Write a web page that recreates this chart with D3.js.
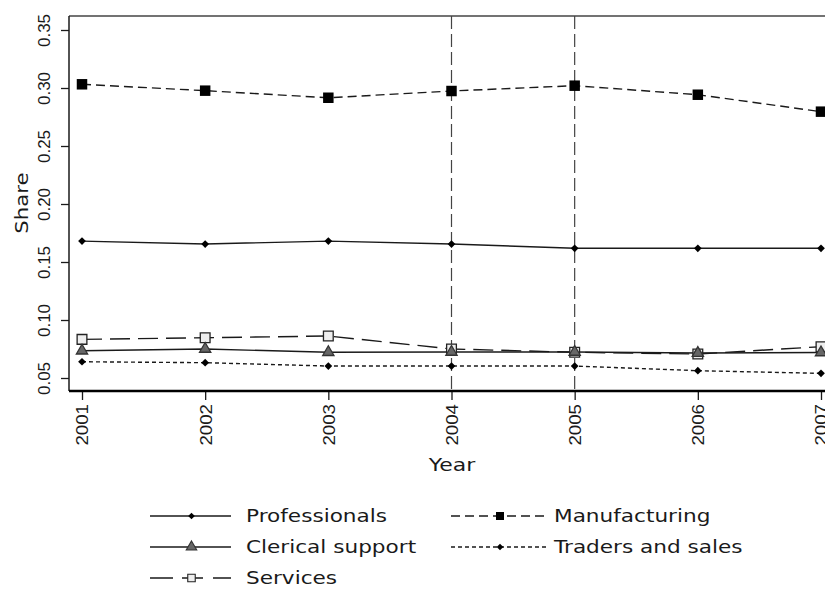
<!DOCTYPE html>
<html>
<head>
<meta charset="utf-8">
<script src="https://cdn.jsdelivr.net/npm/d3@7"></script>
<style>
  body { margin: 0; background: #fff; }
  svg { display: block; font-family: "DejaVu Sans", sans-serif; }
</style>
</head>
<body>
<svg id="chart" width="825" height="593"></svg>
<script>
const years = [2001, 2002, 2003, 2004, 2005, 2006, 2007];
const yTicks = [0.05, 0.10, 0.15, 0.20, 0.25, 0.30, 0.35];
const professionals = [0.168, 0.1655, 0.168, 0.1655, 0.1618, 0.1618, 0.1618];
const manufacturing = [0.3032, 0.2977, 0.2916, 0.2974, 0.302, 0.2942, 0.2796];
const clerical = [0.0735, 0.075, 0.0722, 0.0724, 0.0724, 0.0715, 0.072];
const traders = [0.064, 0.0632, 0.0603, 0.0603, 0.0603, 0.0563, 0.054];
const services = [0.0833, 0.0847, 0.0862, 0.075, 0.0722, 0.0707, 0.077];
const refYears = [2004, 2005];

const svg = d3.select("#chart");
const x = d3.scaleLinear().domain([2001, 2007]).range([82, 821]);
const y = d3.scaleLinear().domain([0.05, 0.35]).range([378, 30]);

const plotTop = 16, plotBottom = 391, plotLeft = 69, plotRight = 840;
const ink = "#1a1a1a";

// frame top
svg.append("line").attr("x1", plotLeft).attr("x2", plotRight).attr("y1", plotTop).attr("y2", plotTop)
  .attr("stroke", "#444").attr("stroke-width", 1.5);

// reference lines
svg.selectAll(".ref").data(refYears).join("line")
  .attr("x1", d => x(d)).attr("x2", d => x(d))
  .attr("y1", plotTop).attr("y2", plotBottom)
  .attr("stroke", "#444").attr("stroke-width", 1.2).attr("stroke-dasharray", "13,5");

// y axis
const yAxis = d3.axisLeft(y).tickValues(yTicks).tickFormat(d3.format(".2f")).tickSize(8);
const gy = svg.append("g").attr("transform", `translate(${plotLeft},0)`).call(yAxis);
gy.select(".domain").remove();
gy.selectAll(".tick line").attr("stroke", ink).attr("stroke-width", 1.3);
gy.selectAll(".tick text")
  .attr("x", 0).attr("y", 0).attr("dy", "0.35em")
  .attr("transform", `translate(${44 - plotLeft},0) rotate(-90)`)
  .attr("text-anchor", "middle")
  .attr("fill", ink).style("font-size", "17px");
svg.append("line").attr("x1", plotLeft).attr("x2", plotLeft).attr("y1", plotTop).attr("y2", plotBottom)
  .attr("stroke", ink).attr("stroke-width", 1.5);

// x axis
const xAxis = d3.axisBottom(x).tickValues(years).tickFormat(d3.format("d")).tickSize(9);
const gx = svg.append("g").attr("transform", `translate(0,${plotBottom})`).call(xAxis);
gx.select(".domain").remove();
gx.selectAll(".tick line").attr("stroke", ink).attr("stroke-width", 1.3);
gx.selectAll(".tick text")
  .attr("x", 0).attr("y", 0).attr("dy", "0.35em")
  .attr("transform", "translate(0,13) rotate(-90) scale(1.1,1)")
  .attr("text-anchor", "end").attr("fill", ink).style("font-size", "17px");
svg.append("line").attr("x1", plotLeft).attr("x2", plotRight).attr("y1", plotBottom).attr("y2", plotBottom)
  .attr("stroke", "#000").attr("stroke-width", 2.5);

// axis titles
svg.append("text").attr("transform", "translate(452,471) scale(1.22,1)").attr("text-anchor", "middle")
  .attr("fill", ink).style("font-size", "18px").text("Year");
svg.append("text").attr("transform", "translate(22,203) rotate(-90) scale(1.18,1)").attr("text-anchor", "middle")
  .attr("dy", "0.35em").attr("fill", ink).style("font-size", "18px").text("Share");

// series
const series = [
  { name: "Professionals", values: professionals, dash: null, marker: "diamond", fill: "#000" },
  { name: "Manufacturing", values: manufacturing, dash: "9,5", marker: "square", fill: "#000" },
  { name: "Clerical support", values: clerical, dash: null, marker: "triangle", fill: "#666" },
  { name: "Traders and sales", values: traders, dash: "4,3", marker: "diamond", fill: "#000" },
  { name: "Services", values: services, dash: "20,8", marker: "osquare", fill: "#eee" }
];

function symType(kind) {
  if (kind === "diamond") return d3.symbolDiamond2;
  if (kind === "triangle") return d3.symbolTriangle;
  return d3.symbolSquare;
}
function markerStroke(kind) {
  return kind === "osquare" ? "#222" : (kind === "triangle" ? "#333" : "none");
}
const plotSize = { diamond: 38, square: 110, osquare: 95, triangle: 55 };
const legendSize = { diamond: 28, square: 64, osquare: 56, triangle: 48 };

const line = d3.line().x((d, i) => x(years[i])).y(d => y(d));
const drawOrder = [4, 2, 0, 3, 1];
drawOrder.forEach(k => {
  const s = series[k];
  svg.append("path").datum(s.values).attr("d", line)
    .attr("fill", "none").attr("stroke", ink).attr("stroke-width", 1.4)
    .attr("stroke-dasharray", s.dash);
});
drawOrder.forEach(k => {
  const s = series[k];
  svg.selectAll(null).data(s.values).join("path")
    .attr("d", d3.symbol(symType(s.marker), plotSize[s.marker])())
    .attr("transform", (d, i) => `translate(${x(years[i])},${y(d)})`)
    .attr("fill", s.fill)
    .attr("stroke", markerStroke(s.marker))
    .attr("stroke-width", 1.3);
});

// legend
const legendItems = [
  { s: series[0], col: 0, row: 0 },
  { s: series[1], col: 1, row: 0 },
  { s: series[2], col: 0, row: 1 },
  { s: series[3], col: 1, row: 1 },
  { s: series[4], col: 0, row: 2 }
];
const colX = [150, 451], colW = [81, 96], colLabel = [246, 554];
const rowY = [516, 547, 578];
const legendDash = { "Manufacturing": "9,5", "Traders and sales": "4,3", "Services": "23,9,21,10,18" };
legendItems.forEach(it => {
  const x0 = colX[it.col], yy = rowY[it.row], w = colW[it.col];
  const g = svg.append("g");
  g.append("line").attr("x1", x0).attr("x2", x0 + w).attr("y1", yy).attr("y2", yy)
    .attr("stroke", ink).attr("stroke-width", 1.4)
    .attr("stroke-dasharray", legendDash[it.s.name] || null);
  g.append("path").attr("d", d3.symbol(symType(it.s.marker), legendSize[it.s.marker])())
    .attr("transform", `translate(${x0 + w / 2 + 1},${yy})`)
    .attr("fill", it.s.fill)
    .attr("stroke", markerStroke(it.s.marker))
    .attr("stroke-width", 1.1);
  g.append("text").attr("transform", `translate(${colLabel[it.col]},${yy}) scale(1.2,1)`)
    .attr("dy", "0.36em")
    .attr("fill", ink).style("font-size", "18px").text(it.s.name);
});
</script>
</body>
</html>
